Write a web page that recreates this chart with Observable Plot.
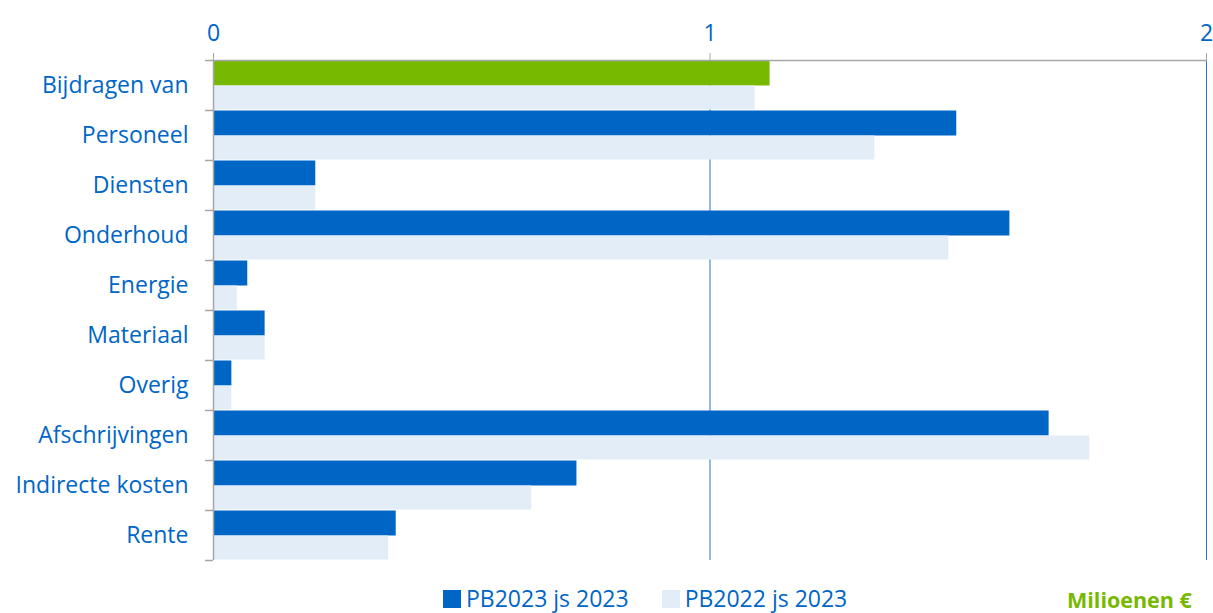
<!DOCTYPE html>
<html>
<head>
<meta charset="utf-8">
<script src="https://cdn.jsdelivr.net/npm/d3@7"></script>
<script src="https://cdn.jsdelivr.net/npm/@observablehq/plot@0.6"></script>
<style>
  html, body { margin: 0; padding: 0; background: #fff; overflow: hidden; }
  #wrap { position: relative; width: 1213px; height: 613px; font-family: "Open Sans", sans-serif; }
  #legend { position: absolute; left: 443px; top: 587px; display: flex; align-items: center; font-size: 23px; line-height: 1; color: #0066C6; white-space: nowrap; }
  .sw { display: inline-block; width: 18px; height: 18px; margin-right: 5px; }
  .item { display: flex; align-items: center; margin-right: 33px; }
  #unit { position: absolute; left: 1067px; top: 589px; font-size: 21.5px; line-height: 1; font-weight: bold; color: #76B900; white-space: nowrap; }
</style>
</head>
<body>
<div id="wrap">
  <div id="chart"></div>
  <div id="legend"></div>
  <div id="unit"></div>
</div>
<script>
const categories = ["Bijdragen van", "Personeel", "Diensten", "Onderhoud", "Energie", "Materiaal", "Overig", "Afschrijvingen", "Indirecte kosten", "Rente"];
const pb2023 = [1.121, 1.497, 0.206, 1.604, 0.069, 0.104, 0.037, 1.683, 0.732, 0.368];
const pb2022 = [1.091, 1.332, 0.206, 1.481, 0.048, 0.104, 0.037, 1.765, 0.641, 0.353];
const seriesNames = ["PB2023 js 2023", "PB2022 js 2023"];
const xTicks = [0, 1, 2];
const unitLabel = "Milioenen €";

const DARK = "#0066C6", LIGHT = "#E3EDF8", GREEN = "#76B900", TEXT = "#0066C6", GRID = "#2672C8", AXIS = "#A6A6A6";

const rows = categories.map((c, i) => ({cat: c, a: pb2023[i], b: pb2022[i]}));

const chart = Plot.plot({
  width: 1213,
  height: 580,
  marginTop: 60,
  marginBottom: 20,
  marginLeft: 213,
  marginRight: 7,
  style: {fontFamily: "'Open Sans', sans-serif", background: "white"},
  x: {domain: [0, 2]},
  y: {domain: categories, padding: 0},
  marks: [
    Plot.ruleX([1, 2], {stroke: GRID, strokeWidth: 1}),
    Plot.barX(rows, {x: "a", y: "cat", fill: d => d.cat === categories[0] ? GREEN : DARK, insetTop: 0.5, insetBottom: 24.5}),
    Plot.barX(rows, {x: "b", y: "cat", fill: LIGHT, insetTop: 25.5, insetBottom: 0.5}),
    Plot.ruleX([0], {stroke: AXIS, strokeWidth: 1.5}),
    Plot.ruleY([categories[0]], {dy: -25, stroke: AXIS, strokeWidth: 1.5}),
    Plot.ruleY(categories, {y: d => d, dy: -25, x1: -0.016, x2: 0, stroke: AXIS, strokeWidth: 1.5}),
    Plot.ruleY([categories[categories.length - 1]], {dy: 25, x1: -0.016, x2: 0, stroke: AXIS, strokeWidth: 1.5}),
    Plot.axisX({anchor: "top", ticks: xTicks, tickFormat: d => String(d), tickSize: 8, tickPadding: 12, fontSize: 23, stroke: AXIS, fill: TEXT, label: null}),
    Plot.axisY({tickSize: 0, tickPadding: 25, fontSize: 23, fill: TEXT, label: null})
  ]
});
document.getElementById("chart").appendChild(chart);

const legend = document.getElementById("legend");
[DARK, LIGHT].forEach((col, i) => {
  const it = document.createElement("span");
  it.className = "item";
  const sw = document.createElement("span");
  sw.className = "sw";
  sw.style.background = col;
  it.appendChild(sw);
  it.appendChild(document.createTextNode(seriesNames[i]));
  legend.appendChild(it);
});
document.getElementById("unit").textContent = unitLabel;
</script>
</body>
</html>
